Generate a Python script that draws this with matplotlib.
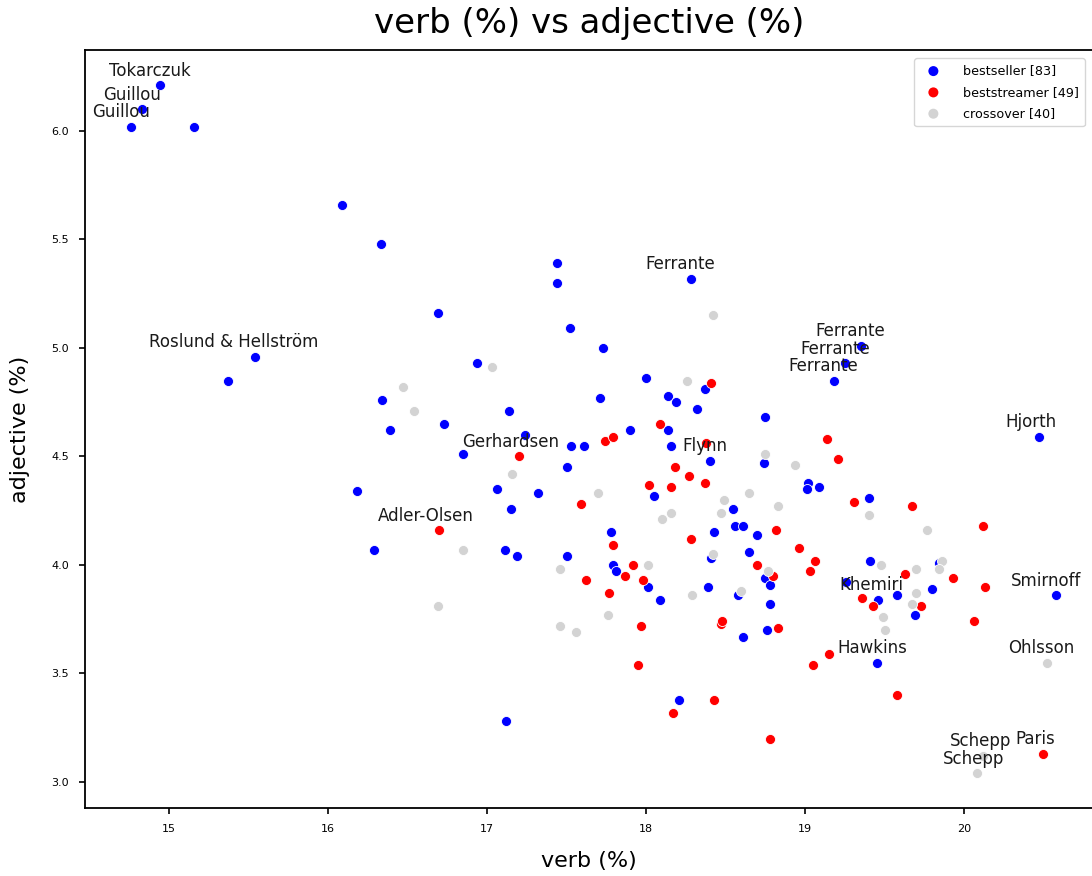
import matplotlib
matplotlib.use("Agg")
import matplotlib.pyplot as plt
from matplotlib.ticker import FormatStrFormatter

# ---- data ----
bestseller_verb = [14.94, 14.83, 14.76, 15.16, 16.09, 16.33, 16.69, 15.54, 15.37, 17.44,
                   17.44, 18.28, 17.52, 16.94, 17.73, 18.00, 18.14, 18.19, 18.32, 18.37,
                   17.71, 17.14, 16.34, 16.39, 16.73, 17.90, 18.14, 17.53, 17.61, 18.16,
                   16.85, 17.24, 17.50, 18.40, 17.06, 17.32, 17.15, 18.05, 16.18, 16.29,
                   17.11, 17.19, 17.50, 17.78, 17.79, 17.81, 18.01, 18.09, 18.21, 17.12,
                   18.43, 18.41, 18.39, 18.75, 18.74, 18.55, 19.02, 19.01, 19.09, 19.40,
                   18.56, 18.61, 18.70, 18.65, 18.75, 18.78, 18.58, 18.78, 18.61, 18.76,
                   19.35, 19.25, 19.18, 20.47, 19.41, 19.84, 19.26, 19.46, 19.58, 19.80,
                   19.69, 19.45, 20.58]
bestseller_adj = [6.21, 6.10, 6.02, 6.02, 5.66, 5.48, 5.16, 4.96, 4.85, 5.39,
                  5.30, 5.32, 5.09, 4.93, 5.00, 4.86, 4.78, 4.75, 4.72, 4.81,
                  4.77, 4.71, 4.76, 4.62, 4.65, 4.62, 4.62, 4.55, 4.55, 4.55,
                  4.51, 4.60, 4.45, 4.48, 4.35, 4.33, 4.26, 4.32, 4.34, 4.07,
                  4.07, 4.04, 4.04, 4.15, 4.00, 3.97, 3.90, 3.84, 3.38, 3.28,
                  4.15, 4.03, 3.90, 4.68, 4.47, 4.26, 4.38, 4.35, 4.36, 4.31,
                  4.18, 4.18, 4.14, 4.06, 3.94, 3.91, 3.86, 3.82, 3.67, 3.70,
                  5.01, 4.93, 4.85, 4.59, 4.02, 4.01, 3.92, 3.84, 3.86, 3.89,
                  3.77, 3.55, 3.86]

beststreamer_verb = [18.41, 18.09, 17.74, 17.79, 18.38, 17.20, 18.18, 18.27, 18.37, 18.02,
                     18.16, 17.59, 18.28, 16.70, 17.79, 17.92, 17.62, 17.87, 17.98, 17.77,
                     17.97, 17.95, 18.17, 18.47, 19.14, 19.21, 19.31, 19.67, 20.12, 18.82,
                     18.96, 19.06, 19.03, 18.70, 18.80, 18.48, 18.83, 19.63, 19.93, 20.13,
                     19.36, 19.43, 19.73, 20.06, 19.15, 19.05, 19.58, 18.43, 18.78, 20.50]
beststreamer_adj = [4.84, 4.65, 4.57, 4.59, 4.56, 4.50, 4.45, 4.41, 4.38, 4.37,
                    4.36, 4.28, 4.12, 4.16, 4.09, 4.00, 3.93, 3.95, 3.93, 3.87,
                    3.72, 3.54, 3.32, 3.73, 4.58, 4.49, 4.29, 4.27, 4.18, 4.16,
                    4.08, 4.02, 3.97, 4.00, 3.95, 3.74, 3.71, 3.96, 3.94, 3.90,
                    3.85, 3.81, 3.81, 3.74, 3.59, 3.54, 3.40, 3.38, 3.20, 3.13]

crossover_verb = [18.42, 18.26, 17.03, 16.47, 16.54, 17.16, 17.70, 18.10, 18.16, 16.85,
                  17.46, 18.01, 16.69, 17.76, 17.46, 17.56, 18.29, 18.42, 18.75, 18.94,
                  18.65, 18.49, 18.47, 18.83, 19.40, 19.77, 18.77, 18.60, 19.48, 19.70,
                  19.86, 19.84, 19.70, 19.67, 19.49, 19.50, 20.52, 20.12, 20.08]
crossover_adj = [5.15, 4.85, 4.91, 4.82, 4.71, 4.42, 4.33, 4.21, 4.24, 4.07,
                 3.98, 4.00, 3.81, 3.77, 3.72, 3.69, 3.86, 4.05, 4.51, 4.46,
                 4.33, 4.30, 4.24, 4.27, 4.23, 4.16, 3.97, 3.88, 4.00, 3.98,
                 4.02, 3.98, 3.87, 3.82, 3.76, 3.70, 3.55, 3.12, 3.04]

group_labels = ["bestseller [83]", "beststreamer [49]", "crossover [40]"]

label_names = ["Tokarczuk", "Guillou", "Guillou", "Roslund & Hellström", "Ferrante",
               "Ferrante", "Ferrante", "Ferrante", "Hjorth", "Gerhardsen",
               "Adler-Olsen", "Flynn", "Khemiri", "Hawkins", "Smirnoff",
               "Ohlsson", "Paris", "Schepp", "Schepp"]
label_verb = [14.94, 14.83, 14.76, 15.54, 18.28, 19.35, 19.25, 19.18, 20.47, 17.20,
              16.70, 18.40, 19.46, 19.45, 20.58, 20.52, 20.50, 20.12, 20.08]
label_adj = [6.21, 6.10, 6.02, 4.96, 5.32, 5.01, 4.93, 4.85, 4.59, 4.50,
             4.16, 4.48, 3.84, 3.55, 3.86, 3.55, 3.13, 3.12, 3.04]

# ---- styling (label offsets in pixels) ----
label_dx = [-10, -10, -10, -21, -10, -10, -10, -10, -8, -8,
            -14, -5, -7, -4, -10, -5, -8, -3, -3]
label_dy = 14.5

colors = ["#0000ff", "#ff0000", "#d3d3d3"]

fig = plt.figure(figsize=(10.92, 8.76), dpi=100)
ax = fig.add_axes([0.0778, 0.0776, 0.9232, 0.8653])

series = [(bestseller_verb, bestseller_adj), (beststreamer_verb, beststreamer_adj),
          (crossover_verb, crossover_adj)]
for (xs, ys), c, lab in zip(series, colors, group_labels):
    ax.scatter(xs, ys, s=52, color=c, edgecolors="white", linewidths=0.6, label=lab, zorder=2)

for name, x, y, dx in zip(label_names, label_verb, label_adj, label_dx):
    ax.annotate(name, (x, y), xytext=(dx, label_dy), textcoords="offset pixels",
                ha="center", va="center", fontsize=12, color="#1a1a1a", zorder=3)

ax.set_xlim(14.471, 20.812)
ax.set_ylim(2.880, 6.373)
ax.set_xticks([15, 16, 17, 18, 19, 20])
ax.set_yticks([3.0, 3.5, 4.0, 4.5, 5.0, 5.5, 6.0])
ax.yaxis.set_major_formatter(FormatStrFormatter("%.1f"))
ax.tick_params(labelsize=8, length=4.5, width=1.2, pad=7)
for sp in ax.spines.values():
    sp.set_linewidth(1.3)

ax.set_xlabel("verb (%)", fontsize=16, labelpad=12)
ax.set_ylabel("adjective (%)", fontsize=16, labelpad=15)
ax.set_title("verb (%) vs adjective (%)", fontsize=24.5, pad=12)

leg = ax.legend(loc="upper right", fontsize=9.2, frameon=True, borderpad=0.5,
                handletextpad=1.3, markerscale=1.0, labelspacing=0.65,
                borderaxespad=0.0, bbox_to_anchor=(0.992, 0.9894))
for h in leg.legend_handles:
    h.set_edgecolor("none")

fig.savefig("out.png", dpi=100)
